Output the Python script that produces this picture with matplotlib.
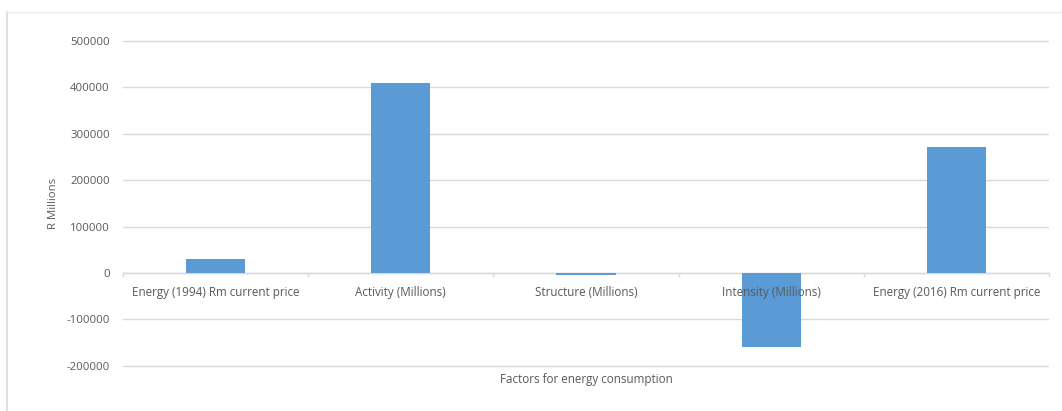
import matplotlib.pyplot as plt
from matplotlib.lines import Line2D

categories = [
    "Energy (1994) Rm current price",
    "Activity (Millions)",
    "Structure (Millions)",
    "Intensity (Millions)",
    "Energy (2016) Rm current price",
]
values = [30000, 409000, -5000, -159000, 271000]
y_ticks = [-200000, -100000, 0, 100000, 200000, 300000, 400000, 500000]

text_color = "#595959"
grid_color = "#d9d9d9"
bar_color = "#5b9bd5"

plt.rcParams["font.family"] = ["Open Sans", "DejaVu Sans"]

W, H = 1062, 411
fig = plt.figure(figsize=(W / 100, H / 100), dpi=100)

# value range slightly padded so the outer gridlines are not clipped
y_min, y_max = -210000, 510000
zero_px = 273
px_per_unit = 232 / 500000
left, right = 123, 1049
top = zero_px - y_max * px_per_unit
bottom = zero_px - y_min * px_per_unit
ax = fig.add_axes([left / W, 1 - bottom / H, (right - left) / W, (bottom - top) / H])

x = list(range(len(categories)))
ax.bar(x, values, width=0.32, color=bar_color, zorder=3)

ax.set_xlim(-0.5, len(categories) - 0.5)
ax.set_ylim(y_min, y_max)
ax.set_yticks(y_ticks)
ax.set_yticklabels([str(v) for v in y_ticks], fontsize=8.2, color=text_color)
ax.tick_params(axis="y", length=0, pad=9.5)
ax.yaxis.grid(True, color=grid_color, linewidth=1.0, zorder=0)

for s in ax.spines.values():
    s.set_visible(False)

# category axis drawn along the zero line with boundary tick marks
ax.axhline(0, color=grid_color, linewidth=1.0, zorder=2)
ax.set_xticks([])
for b in [i - 0.5 for i in range(len(categories) + 1)]:
    ax.plot([b, b], [0, -5500], color=grid_color, linewidth=1.0, zorder=2, clip_on=False)
for i, c in enumerate(categories):
    ax.text(i, -27000, c, ha="center", va="top", fontsize=8.4, color=text_color, zorder=4)

ax.set_ylabel("R Millions", fontsize=8.2, color=text_color, labelpad=5)
fig.text((left + right) / 2 / W, 1 - 379 / H, "Factors for energy consumption",
         ha="center", va="center", fontsize=8.4, color=text_color)

# chart frame
fig.add_artist(Line2D([7 / W, 7 / W], [0, 1 - 12 / H], transform=fig.transFigure,
                      color="#d9d9d9", linewidth=1.2))
fig.add_artist(Line2D([7 / W, 1], [1 - 12 / H, 1 - 12 / H], transform=fig.transFigure,
                      color="#ececec", linewidth=1.0))

fig.savefig("out.png", dpi=100)
